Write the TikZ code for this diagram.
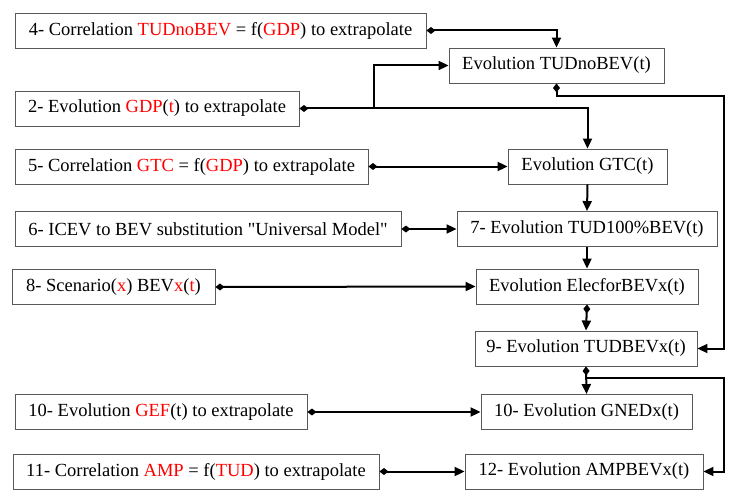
\documentclass[tikz,border=0pt]{standalone}
\usepackage{fontspec}
\setmainfont{Liberation Serif}[Ligatures=TeXOff]
\usetikzlibrary{arrows.meta}
\definecolor{rd}{RGB}{255,0,0}
\newcommand{\redt}[1]{\textcolor{rd}{#1}}
\begin{document}
\begin{tikzpicture}[x=1pt,y=-1pt,
  box/.style={draw=black!65, line width=0.9pt, inner sep=0pt, minimum height=35pt,
    font=\fontsize{18.5}{22}\selectfont},
  link/.style={line width=2pt, {Diamond[length=9pt,width=7pt]}-{Triangle[length=10pt,width=9pt]}},
  plain/.style={line width=2pt, -{Triangle[length=10pt,width=9pt]}}]
\useasboundingbox (0,0) rectangle (741,500);

\node[box, minimum width=411pt] (b4) at (220.5,30.5) {4- Correlation \redt{TUDnoBEV} = f(\redt{GDP}) to extrapolate};
\node[box, minimum width=215pt] (tud) at (556.5,65.5) {Evolution TUDnoBEV(t)};
\node[box, minimum width=284pt] (b2) at (157,108.5) {2- Evolution \redt{GDP}(\redt{t}) to extrapolate};
\node[box, minimum width=353pt] (b5) at (191.5,166.5) {5- Correlation \redt{GTC} = f(\redt{GDP}) to extrapolate};
\node[box, minimum width=159pt] (gtc) at (587.5,166.5) {Evolution GTC(t)};
\node[box, minimum width=386pt] (b6) at (208,229) {6- ICEV to BEV substitution "Universal Model"};
\node[box, minimum width=260pt] (b7) at (587,229) {7- Evolution TUD100\%BEV(t)};
\node[box, minimum width=203pt] (b8) at (113.5,287) {8- Scenario(\redt{x}) BEV\redt{x}(\redt{t})};
\node[box, minimum width=222pt] (elec) at (587,286.5) {Evolution ElecforBEVx(t)};
\node[box, minimum width=222pt] (b9) at (586,348.5) {9- Evolution TUDBEVx(t)};
\node[box, minimum width=292pt] (b10) at (161,412) {10- Evolution \redt{GEF}(t) to extrapolate};
\node[box, minimum width=211pt] (gned) at (586.5,412) {10- Evolution GNEDx(t)};
\node[box, minimum width=366pt] (b11) at (196,471.5) {11- Correlation \redt{AMP} = f(\redt{TUD}) to extrapolate};
\node[box, minimum width=238pt] (b12) at (584,471.5) {12- Evolution AMPBEVx(t)};

\coordinate (j1) at (374,108.5);
\coordinate (r1) at (724,95.7);
\coordinate (j2) at (586,377.5);
\coordinate (r3) at (724,377.5);

\draw[link] (b4.east) -| (tud.north);
\draw[link] (b2.east) -| (gtc.north);
\draw[plain] (j1) |- (tud.west);
\draw[link] (b5.east) -- (gtc.west);
\draw[plain] (gtc.south) -- (b7.north);
\draw[link] (b6.east) -- (b7.west);
\draw[plain] (b7.south) -- (elec.north);
\draw[link] (b8.east) -- (elec.west);
\draw[link] (elec.south) -- (b9.north);
\draw[link] (tud.south) |- (r1) |- (b9.east);
\draw[link] (b9.south) -- (gned.north);
\draw[plain] (j2) -- (r3) |- (b12.east);
\draw[link] (b10.east) -- (gned.west);
\draw[link] (b11.east) -- (b12.west);
\end{tikzpicture}
\end{document}
